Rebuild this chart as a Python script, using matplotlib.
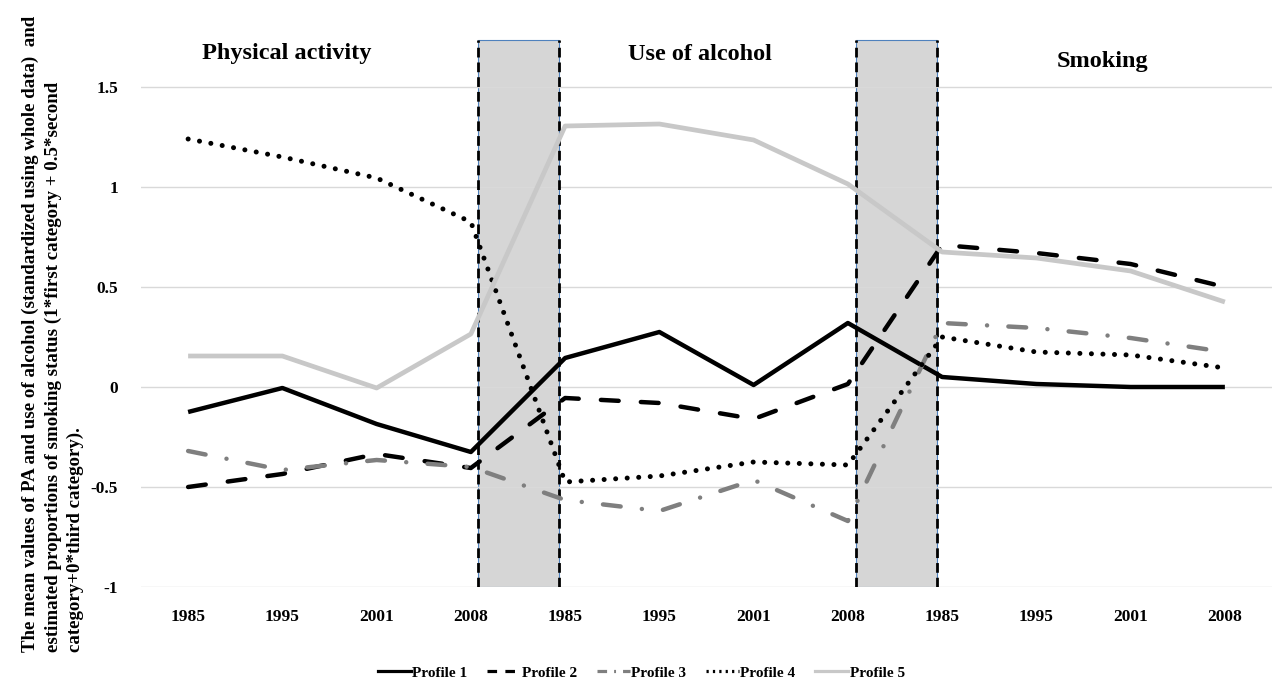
import matplotlib
matplotlib.use("Agg")
import matplotlib.pyplot as plt
from matplotlib.patches import Rectangle
from matplotlib.lines import Line2D
import numpy as np

years = ["1985", "1995", "2001", "2008"] * 3
sections = ["Physical activity", "Use of alcohol", "Smoking"]
profile_names = ["Profile 1", "Profile 2", "Profile 3", "Profile 4", "Profile 5"]

p1 = [-0.125, -0.005, -0.185, -0.325, 0.145, 0.275, 0.01, 0.32, 0.05, 0.015, 0.0, 0.0]
p2 = [-0.50, -0.435, -0.335, -0.405, -0.055, -0.08, -0.16, 0.015, 0.71, 0.67, 0.615, 0.50]
p3 = [-0.32, -0.415, -0.365, -0.40, -0.565, -0.62, -0.465, -0.67, 0.32, 0.295, 0.245, 0.175]
p4 = [1.24, 1.15, 1.045, 0.825, -0.475, -0.445, -0.375, -0.39, 0.25, 0.175, 0.16, 0.095]
p5 = [0.155, 0.155, -0.005, 0.265, 1.305, 1.315, 1.235, 1.015, 0.675, 0.645, 0.58, 0.425]
series = [p1, p2, p3, p4, p5]

plt.rcParams['font.family'] = ['Liberation Serif', 'DejaVu Serif']
plt.rcParams['font.weight'] = 'bold'

fig = plt.figure(figsize=(12.75, 6.9), dpi=100)
ax = fig.add_axes([141/1275, (690-587)/690, (1272-141)/1275, 580/690])

x = np.arange(len(years))
colors = ['black', 'black', '#7f7f7f', 'black', '#c8c8c8']
styles = [
    dict(lw=3.2, ls='-'),
    dict(lw=3.2, ls=(0, (4, 5.0)), dash_capstyle='round'),
    dict(lw=3.2, ls=(0, (4, 4.8, 0.01, 4.8)), dash_capstyle='round'),
    dict(lw=3.6, ls=(0, (0.01, 2.3)), dash_capstyle='round'),
    dict(lw=3.4, ls='-'),
]
for s, c, st in zip(series, colors, styles):
    ax.plot(x, s, color=c, zorder=3, solid_capstyle='butt', **st)

# shaded transition bands
for x0, x1 in [(3.075, 3.93), (7.09, 7.95)]:
    r = Rectangle((x0, -1.0), x1 - x0, 2.735, facecolor='#d6d6d6',
                  edgecolor='#4f81bd', lw=0.8, zorder=0.4)
    ax.add_patch(r)
    ax.vlines([x0, x1], -1.0, 1.735, colors='black', linestyles=(0, (3.5, 1.8)),
              lw=2.0, zorder=2)

ax.set_xlim(-0.5, 11.5)
ax.set_ylim(-1, 1.9)
ax.set_yticks([-1, -0.5, 0, 0.5, 1, 1.5])
ax.set_yticklabels(["-1", "-0.5", "0", "0.5", "1", "1.5"])
ax.set_xticks(x)
ax.set_xticklabels(years)
ax.tick_params(axis='both', length=0, labelsize=12.5)
ax.tick_params(axis='y', pad=16.5)
ax.tick_params(axis='x', pad=16)
ax.grid(axis='y', color='#d9d9d9', lw=1)
ax.set_axisbelow(True)
for sp in ax.spines.values():
    sp.set_visible(False)

for lbl, (tx, ty) in zip(sections, [(1.05, 1.67), (5.43, 1.66), (9.7, 1.625)]):
    ax.text(tx, ty, lbl, ha='center', va='center', fontsize=17.5, fontweight='bold')

fig.text(53/1275, (690-652)/690,
         "The mean values of PA and use of alcohol (standardized using whole data)  and\n"
         "estimated proportions of smoking status (1*first category + 0.5*second\n"
         "category+0*third category).",
         rotation=90, ha='center', va='bottom', multialignment='left',
         fontsize=13.6, fontweight='bold', linespacing=1.38)

leg_styles = ['-', (0, (3, 2.6)), (0, (3, 2.2, 0.6, 2.2)), (0, (0.7, 1.3)), '-']
handles = [Line2D([], [], color=c, lw=2.3, ls=ls) for c, ls in zip(colors, leg_styles)]
fig.legend(handles, profile_names, loc='lower center', bbox_to_anchor=(0.503, -0.005),
           ncol=5, frameon=False, prop={'size': 11, 'weight': 'bold'},
           handlelength=2.15, handletextpad=0.1, columnspacing=1.3)

fig.savefig("out.png", dpi=100)
